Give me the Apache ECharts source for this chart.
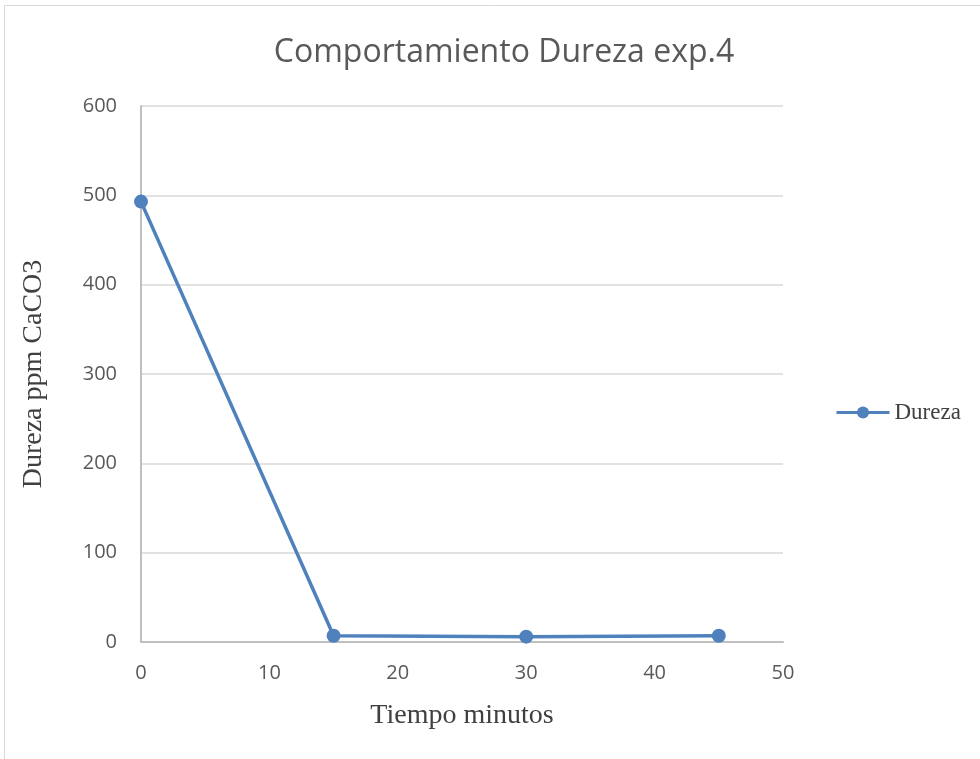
<!DOCTYPE html>
<html>
<head>
<meta charset="utf-8">
<script src="https://cdn.jsdelivr.net/npm/echarts@6/dist/echarts.min.js"></script>
<style>
  html, body { margin: 0; padding: 0; background: #fff; }
  #chart { width: 980px; height: 759px; }
</style>
</head>
<body>
<div id="chart"></div>
<script>
// Hardness over time, experiment 4
const tiempoMin = [0, 15, 30, 45];
const durezaPpm = [493, 7, 6, 7];
const xTicks = { min: 0, max: 50, interval: 10 };
const yTicks = { min: 0, max: 600, interval: 100 };

const chart = echarts.init(document.getElementById('chart'), null, { renderer: 'canvas' });

const blue = '#4f81bd';
const tickFont = { color: '#595959', fontSize: 20, fontFamily: 'Open Sans, sans-serif' };
const serifName = { color: '#404040', fontSize: 28, fontFamily: 'Liberation Serif, serif' };

chart.setOption({
  animation: false,
  backgroundColor: '#fff',
  graphic: [{
    type: 'rect',
    shape: { x: 4.5, y: 5.5, width: 990, height: 760 },
    style: { fill: 'none', stroke: '#d9d9d9', lineWidth: 1 },
    silent: true
  }],
  title: {
    text: 'Comportamiento Dureza exp.4',
    left: 499, top: 32, textAlign: 'center',
    textStyle: { color: '#595959', fontSize: 32, fontWeight: 'normal', fontFamily: 'Open Sans, sans-serif' }
  },
  legend: {
    data: ['Dureza'],
    orient: 'vertical',
    left: 835, top: 401, padding: 0,
    itemWidth: 53, itemHeight: 15, itemGap: 6,
    lineStyle: { width: 3, color: blue },
    itemStyle: { color: blue },
    textStyle: { color: '#404040', fontSize: 23, fontFamily: 'Liberation Serif, serif' }
  },
  grid: { left: 141, right: 197, top: 106, bottom: 117, containLabel: false },
  xAxis: {
    type: 'value',
    min: xTicks.min, max: xTicks.max, interval: xTicks.interval,
    name: 'Tiempo minutos', nameLocation: 'middle', nameGap: 60,
    nameTextStyle: serifName,
    axisLine: { show: true, lineStyle: { color: '#bfbfbf', width: 2 } },
    axisTick: { show: false },
    splitLine: { show: false },
    axisLabel: Object.assign({ margin: 21 }, tickFont)
  },
  yAxis: {
    type: 'value',
    min: yTicks.min, max: yTicks.max, interval: yTicks.interval,
    name: 'Dureza ppm CaCO3', nameLocation: 'middle', nameGap: 93,
    nameTextStyle: serifName,
    axisLine: { show: true, lineStyle: { color: '#bfbfbf', width: 2 } },
    axisTick: { show: false },
    splitLine: { show: true, lineStyle: { color: '#d9d9d9', width: 1.5 } },
    axisLabel: Object.assign({ margin: 24 }, tickFont)
  },
  series: [{
    name: 'Dureza',
    type: 'line',
    data: tiempoMin.map((t, i) => [t, durezaPpm[i]]),
    symbol: 'circle',
    symbolSize: 14,
    lineStyle: { color: blue, width: 3.5 },
    itemStyle: { color: blue }
  }]
});
</script>
</body>
</html>
